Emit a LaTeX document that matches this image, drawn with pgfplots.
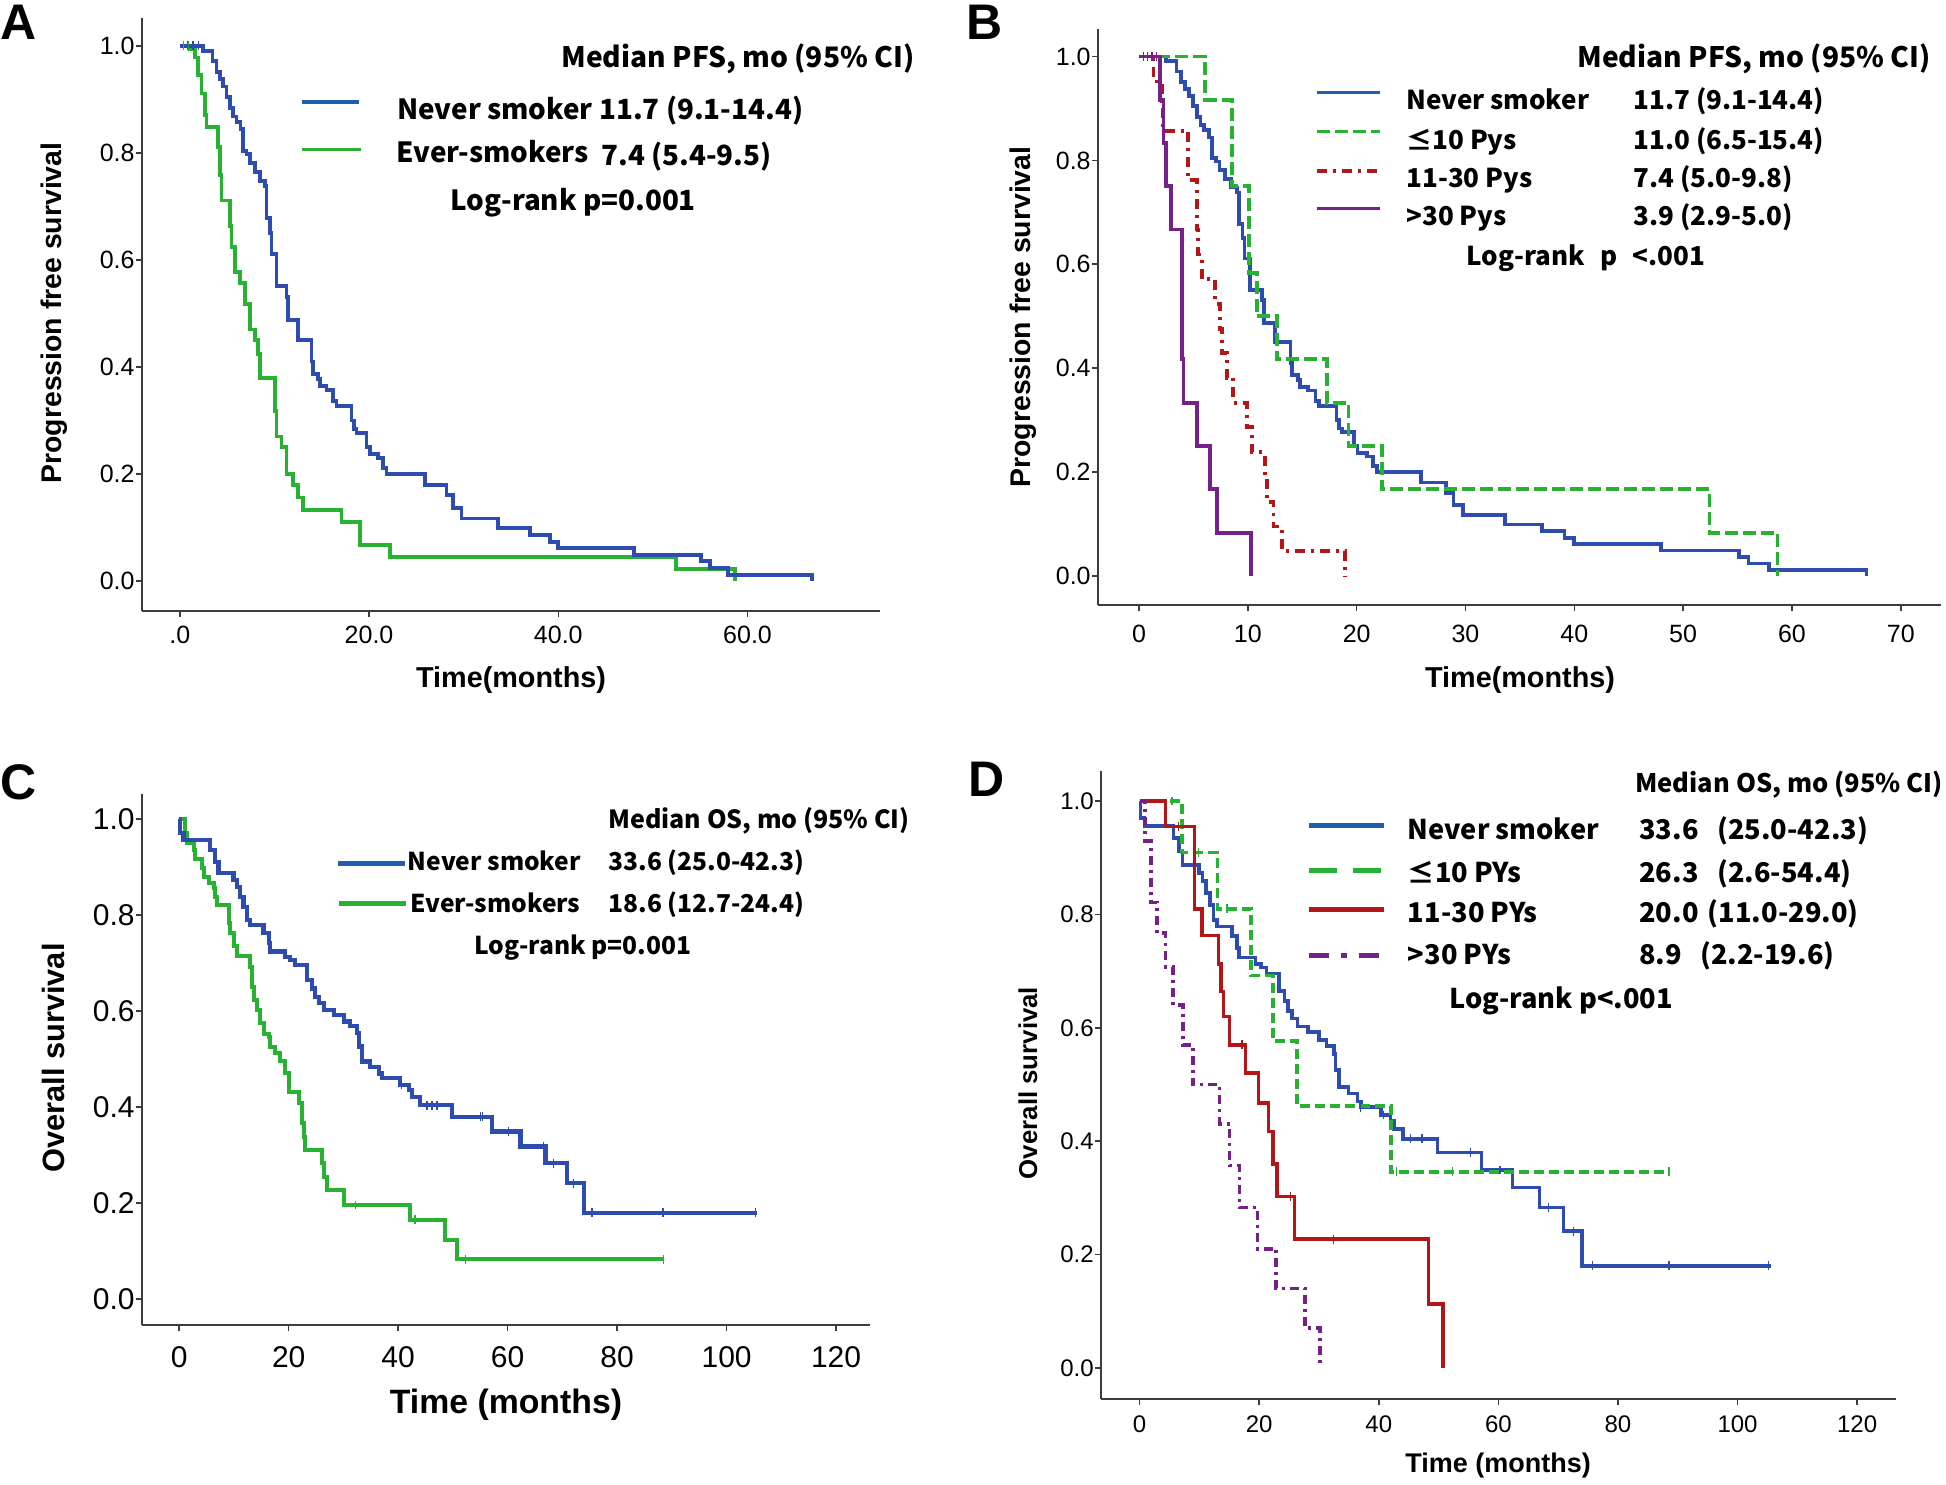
\documentclass[border=0pt]{standalone}
\usepackage{fontspec}
\setmainfont{Liberation Sans}
\newfontfamily\lgd{Noto Sans CJK KR}
\usepackage{pgfplots}
\usepackage{pgfplotstable}
\pgfplotsset{compat=1.18}
\definecolor{kmblue}{RGB}{46,76,176}
\definecolor{lgblue}{RGB}{30,95,175}
\definecolor{kmgreen}{RGB}{40,178,50}
\definecolor{kmred}{RGB}{178,22,22}
\definecolor{kmpurple}{RGB}{118,32,138}
\definecolor{axgray}{RGB}{60,60,60}
\newcommand{\fs}[1]{\fontsize{#1}{#1}\selectfont}

% Never smoker PFS (panels A, B)
\pgfplotstableread{
t s
0 1
2.47 0.991
3.45 0.971
3.88 0.951
4.23 0.938
4.58 0.924
4.93 0.904
5.29 0.884
5.64 0.868
5.99 0.858
6.41 0.844
6.71 0.804
7.05 0.798
7.40 0.781
7.93 0.764
8.46 0.748
8.99 0.738
9.16 0.678
9.51 0.651
9.69 0.611
10.22 0.551
11.28 0.531
11.45 0.487
12.51 0.450
13.92 0.410
14.09 0.387
14.62 0.377
14.80 0.364
15.50 0.357
16.21 0.337
16.56 0.327
18.14 0.300
18.40 0.284
18.67 0.277
19.73 0.250
20.08 0.237
20.96 0.230
21.49 0.211
21.85 0.200
25.90 0.180
28.19 0.160
28.89 0.137
29.77 0.117
33.60 0.099
37.00 0.086
39.10 0.073
39.95 0.062
48.00 0.049
55.10 0.037
56.00 0.024
57.90 0.012
66.85 0.012
66.85 0
}\neverpfs

% Ever-smokers PFS (panel A)
\pgfplotstableread{
t s
0 1
1.06 0.994
1.59 0.978
1.94 0.945
2.29 0.911
2.64 0.871
2.82 0.848
4.05 0.811
4.23 0.758
4.40 0.711
5.29 0.664
5.46 0.624
5.81 0.577
6.34 0.557
6.87 0.517
7.40 0.470
7.93 0.450
8.28 0.424
8.46 0.380
10.04 0.317
10.22 0.270
10.75 0.250
11.28 0.200
11.98 0.180
12.51 0.156
13.04 0.133
17.09 0.110
19.03 0.067
22.20 0.045
52.40 0.022
58.66 0.022
58.66 0
}\everpfs

% <=10 PYs PFS
\pgfplotstableread{
t s
0 1
6.07 0.917
8.52 0.750
10.14 0.583
10.82 0.500
12.65 0.417
17.25 0.333
19.24 0.250
22.30 0.167
52.43 0.083
58.67 0.083
58.67 0
}\lowpfs

% 11-30 PYs PFS
\pgfplotstableread{
t s
0 1
1.32 0.952
2.08 0.905
2.20 0.857
4.53 0.762
5.30 0.667
5.45 0.619
5.76 0.571
7.00 0.524
7.44 0.476
7.60 0.429
8.06 0.381
8.67 0.333
9.90 0.286
10.36 0.238
11.58 0.190
11.73 0.143
12.35 0.095
13.11 0.048
18.93 0.048
18.93 0
}\midpfs

% >30 PYs PFS
\pgfplotstableread{
t s
0 1
1.93 0.917
2.24 0.833
2.48 0.750
2.91 0.667
3.92 0.417
4.08 0.333
5.30 0.250
6.53 0.167
7.14 0.083
10.26 0.083
10.26 0
}\highpfs

% Never smoker OS (panels C, D)
\pgfplotstableread{
t s
0 1
0.18 0.970
0.79 0.956
5.67 0.935
6.58 0.911
7.19 0.887
9.93 0.873
10.54 0.859
11.15 0.838
11.76 0.817
12.37 0.790
12.98 0.779
15.41 0.762
16.33 0.741
16.64 0.724
19.38 0.713
20.29 0.706
21.21 0.696
23.34 0.665
24.25 0.647
24.86 0.630
25.47 0.616
26.39 0.602
28.21 0.592
30.04 0.578
31.26 0.568
32.48 0.554
32.78 0.526
33.39 0.495
34.92 0.484
36.44 0.470
37.05 0.460
40.40 0.446
41.93 0.435
42.54 0.421
44.06 0.404
49.85 0.380
57.16 0.349
62.34 0.318
66.91 0.283
70.87 0.241
74.00 0.180
105.6 0.180
}\neveros

% Ever-smokers OS (panel C)
\pgfplotstableread{
t s
0 1
1.10 0.970
1.40 0.949
2.62 0.935
2.93 0.917
4.14 0.897
4.45 0.880
5.36 0.866
6.28 0.856
6.58 0.838
6.89 0.821
9.02 0.783
9.32 0.762
9.93 0.735
10.54 0.715
12.98 0.692
13.28 0.651
13.59 0.623
14.20 0.602
14.81 0.574
15.41 0.553
16.33 0.546
16.64 0.526
17.55 0.512
18.50 0.495
19.38 0.470
19.99 0.432
21.82 0.408
22.43 0.366
22.73 0.338
23.04 0.310
26.08 0.283
26.39 0.255
27.00 0.227
30.04 0.196
42.22 0.165
48.61 0.124
50.74 0.083
88.50 0.083
}\everos

% <=10 PYs OS
\pgfplotstableread{
t s
0 1
7.08 0.909
13.05 0.810
18.62 0.692
22.30 0.577
26.32 0.462
42.03 0.346
88.50 0.346
}\lowos

% 11-30 PYs OS
\pgfplotstableread{
t s
0 1
4.30 0.955
9.15 0.810
10.43 0.763
13.22 0.713
13.61 0.664
14.05 0.620
15.06 0.570
17.68 0.520
19.91 0.467
21.58 0.417
22.31 0.360
22.97 0.302
25.93 0.227
48.34 0.113
50.74 0.113
50.74 0
}\midos

% >30 PYs OS
\pgfplotstableread{
t s
0 1
0.95 0.929
1.90 0.821
2.90 0.767
4.30 0.707
5.58 0.640
7.25 0.570
8.92 0.500
13.38 0.430
15.06 0.357
16.73 0.283
19.74 0.210
22.86 0.140
27.71 0.070
30.22 0.070
30.22 0
}\highos

\pgfplotsset{km/.style={
  scale only axis, anchor=south west,
  axis lines=left,
  axis line style={-, line width=1.3pt, draw=axgray},
  every tick/.style={line width=0.8pt, draw=axgray},
  major tick length=3pt,
  tick align=outside,
  /pgf/number format/assume math mode=true,
  ytick={0,0.2,0.4,0.6,0.8,1},
  yticklabels={0.0,0.2,0.4,0.6,0.8,1.0},
  yticklabel style={inner sep=0.5pt},
  clip=false,
  every axis plot/.append style={const plot, line width=1.9pt},
},
cens/.style={only marks, mark=|, mark size=2.2pt, mark options={line width=0.7pt, solid}}}

\begin{document}
\begin{tikzpicture}
\path[use as bounding box] (0,0) rectangle (973pt,742pt);

% ---------------- Panel A ----------------
\begin{axis}[km, at={(71pt,436.5pt)}, width=369pt, height=296.5pt,
  xmin=-4, xmax=74, ymin=-0.056, ymax=1.052,
  xtick={0,20,40,60}, xticklabels={.0,20.0,40.0,60.0},
  xticklabel style={yshift=-1.2pt},
  tick label style={font=\fs{12.5}}]
\addplot[kmgreen] table[x=t,y=s] {\everpfs};
\addplot[kmblue] table[x=t,y=s] {\neverpfs};
\addplot[kmgreen, cens] coordinates {(0.4,1) (0.9,1)};
\addplot[kmblue, cens] coordinates {(0.8,1) (1.4,1) (2.0,1)};
\end{axis}

% ---------------- Panel B ----------------
\begin{axis}[km, at={(549pt,439.5pt)}, width=421.5pt, height=288pt,
  xmin=-3.77, xmax=73.7, ymin=-0.056, ymax=1.053,
  xtick={0,10,20,30,40,50,60,70},
  xticklabel style={yshift=-3.5pt},
  tick label style={font=\fs{12.5}}]
\addplot[kmblue] table[x=t,y=s] {\neverpfs};
\addplot[kmgreen, dash pattern=on 6.5pt off 2.5pt] table[x=t,y=s] {\lowpfs};
\addplot[kmred, dash pattern=on 5pt off 3pt on 1.5pt off 3pt] table[x=t,y=s] {\midpfs};
\addplot[kmpurple] table[x=t,y=s] {\highpfs};
\addplot[kmpurple, cens] coordinates {(0.4,1) (0.8,1) (1.2,1) (1.6,1)};
\end{axis}

% ---------------- Panel C ----------------
\begin{axis}[km, at={(71pt,79.5pt)}, width=364pt, height=265.5pt,
  xmin=-6.8, xmax=126.2, ymin=-0.054, ymax=1.052,
  xtick={0,20,40,60,80,100,120},
  xticklabel style={yshift=-4pt},
  tick label style={font=\fs{15}}]
\addplot[kmgreen, line width=2pt] table[x=t,y=s] {\everos};
\addplot[kmblue, line width=2.1pt] table[x=t,y=s] {\neveros};
\addplot[kmgreen, cens] coordinates {(32.2,0.196) (43.1,0.165) (52.3,0.083) (88.5,0.083)};
\addplot[kmblue, cens] coordinates {(40.6,0.446) (45.3,0.404) (46.2,0.404) (47.1,0.404)
  (55.0,0.380) (55.4,0.380) (60.2,0.349) (66.6,0.318) (68.4,0.283) (72.0,0.241)
  (75.4,0.180) (88.4,0.180) (105.3,0.180)};
\end{axis}

% ---------------- Panel D ----------------
\begin{axis}[km, at={(550.5pt,42.5pt)}, width=397.5pt, height=314pt,
  xmin=-6.45, xmax=126.5, ymin=-0.055, ymax=1.053,
  xtick={0,20,40,60,80,100,120},
  xticklabel style={yshift=-1.8pt},
  tick label style={font=\fs{12}}]
\addplot[kmblue, line width=1.8pt] table[x=t,y=s] {\neveros};
\addplot[kmgreen, line width=1.8pt, dash pattern=on 5pt off 2.5pt] table[x=t,y=s] {\lowos};
\addplot[kmred, line width=1.8pt] table[x=t,y=s] {\midos};
\addplot[kmpurple, line width=1.8pt, dash pattern=on 4.5pt off 2.5pt on 1.5pt off 2.5pt] table[x=t,y=s] {\highos};
\addplot[kmblue, cens] coordinates {(36.9,0.460) (40.8,0.446) (45.3,0.404) (47.2,0.404)
  (55.3,0.380) (60.3,0.349) (68.4,0.283) (72.6,0.241) (75.7,0.180) (88.5,0.180) (105.2,0.180)};
\addplot[kmgreen, cens] coordinates {(5.4,1) (9.9,0.909) (14.6,0.810) (43.0,0.346) (52.3,0.346) (88.5,0.346)};
\addplot[kmred, cens] coordinates {(6.5,0.955) (17.1,0.570) (25.2,0.302) (32.4,0.227)};
\end{axis}

\begin{scope}[x=0.5pt, y=-0.5pt, yshift=742pt]
% panel letters
\node[font=\bfseries\fs{25}] at (19,22) {A};
\node[font=\bfseries\fs{25}] at (985,22) {B};
\node[font=\bfseries\fs{25}] at (19,782) {C};
\node[font=\bfseries\fs{25}] at (987,779) {D};

% axis labels
\node[rotate=90, font=\bfseries\fs{14.2}] at (54,313) {Progression free survival};
\node[font=\bfseries\fs{14.4}] at (511,680) {Time(months)};
\node[rotate=90, font=\bfseries\fs{14.2}] at (1023,317) {Progression free survival};
\node[font=\bfseries\fs{14.4}] at (1520,680) {Time(months)};
\node[rotate=90, font=\bfseries\fs{15.4}] at (53,1058) {Overall survival};
\node[font=\bfseries\fs{16.9}] at (506,1405) {Time (months)};
\node[rotate=90, font=\bfseries\fs{12.9}] at (1028,1083) {Overall survival};
\node[font=\bfseries\fs{13.5}] at (1498,1466) {Time (months)};

% ---- legend A ----
\begin{scope}[every node/.style={anchor=base west, inner sep=0pt, font=\lgd\bfseries\fs{13.9}}]
\node[font=\lgd\bfseries\fs{14.1}] at (561,68) {Median PFS, mo (95\% CI)};
\draw[lgblue, line width=1.6pt] (302,102) -- (359,102);
\draw[kmgreen, line width=1.6pt] (302,149.5) -- (361,149.5);
\node at (397,119.6) {Never smoker 11.7 (9.1-14.4)};
\node at (396,163) {Ever-smokers};
\node at (601,166) {7.4 (5.4-9.5)};
\node at (450,210.5) {Log-rank p=0.001};
\end{scope}

% ---- legend B ----
\begin{scope}[every node/.style={anchor=base west, inner sep=0pt, font=\lgd\bfseries\fs{13}}]
\node[font=\lgd\bfseries\fs{14.1}] at (1577,68) {Median PFS, mo (95\% CI)};
\draw[lgblue, line width=1.6pt] (1317,92.9) -- (1380,92.9);
\draw[kmgreen, line width=1.6pt, dash pattern=on 6.5pt off 2.5pt] (1317,131.7) -- (1380,131.7);
\draw[kmred, line width=1.6pt, dash pattern=on 5pt off 3pt on 1.5pt off 3pt] (1317,171) -- (1380,171);
\draw[kmpurple, line width=1.6pt] (1317,208.5) -- (1380,208.5);
\node at (1406,109.4) {Never smoker};
\node at (1406,149.5) {≤10 Pys};
\node at (1406,187.5) {11-30 Pys};
\node at (1406,225.4) {>30 Pys};
\node at (1633,109.4) {11.7 (9.1-14.4)};
\node at (1633,149.5) {11.0 (6.5-15.4)};
\node at (1633,187.5) {7.4 (5.0-9.8)};
\node at (1633,225.4) {3.9 (2.9-5.0)};
\node at (1466,265.6) {Log-rank\hspace{0.6em}p\hspace{0.6em}<.001};
\end{scope}

% ---- legend C ----
\begin{scope}[every node/.style={anchor=base west, inner sep=0pt, font=\lgd\bfseries\fs{12.3}}]
\node[font=\lgd\bfseries\fs{12.5}] at (608,828.6) {Median OS, mo (95\% CI)};
\draw[lgblue, line width=2.5pt] (337.5,863) -- (404.7,863);
\draw[kmgreen, line width=2.5pt] (338.7,903.9) -- (406,903.9);
\node at (407.5,870.8) {Never smoker};
\node at (410,912) {Ever-smokers};
\node at (608,870.8) {33.6 (25.0-42.3)};
\node at (608,912) {18.6 (12.7-24.4)};
\node at (473.6,954.8) {Log-rank p=0.001};
\end{scope}

% ---- legend D ----
\begin{scope}[every node/.style={anchor=base west, inner sep=0pt, font=\lgd\bfseries\fs{13.6}}]
\node[font=\lgd\bfseries\fs{12.75}] at (1635,793) {Median OS, mo (95\% CI)};
\draw[lgblue, line width=2.5pt] (1309,825.4) -- (1384,825.4);
\draw[kmgreen, line width=2.5pt, dash pattern=on 14pt off 8pt] (1309,870.5) -- (1384,870.5);
\draw[kmred, line width=2.5pt] (1309,909.4) -- (1384,909.4);
\draw[kmpurple, line width=2.5pt, dash pattern=on 10pt off 6pt on 3pt off 6pt] (1309,955.9) -- (1384,955.9);
\node at (1407.5,839.6) {Never smoker};
\node at (1407.5,882.4) {≤10 PYs};
\node at (1407.5,922.7) {11-30 PYs};
\node at (1407.5,964) {>30 PYs};
\node at (1639,839.6) {33.6};
\node at (1639,882.4) {26.3};
\node at (1639,922.7) {20.0};
\node at (1639,964) {8.9};
\node at (1717,839.6) {(25.0-42.3)};
\node at (1717,882.4) {(2.6-54.4)};
\node at (1707.5,922.7) {(11.0-29.0)};
\node at (1700,964) {(2.2-19.6)};
\node at (1449,1008) {Log-rank p<.001};
\end{scope}
\end{scope}
\end{tikzpicture}
\end{document}
